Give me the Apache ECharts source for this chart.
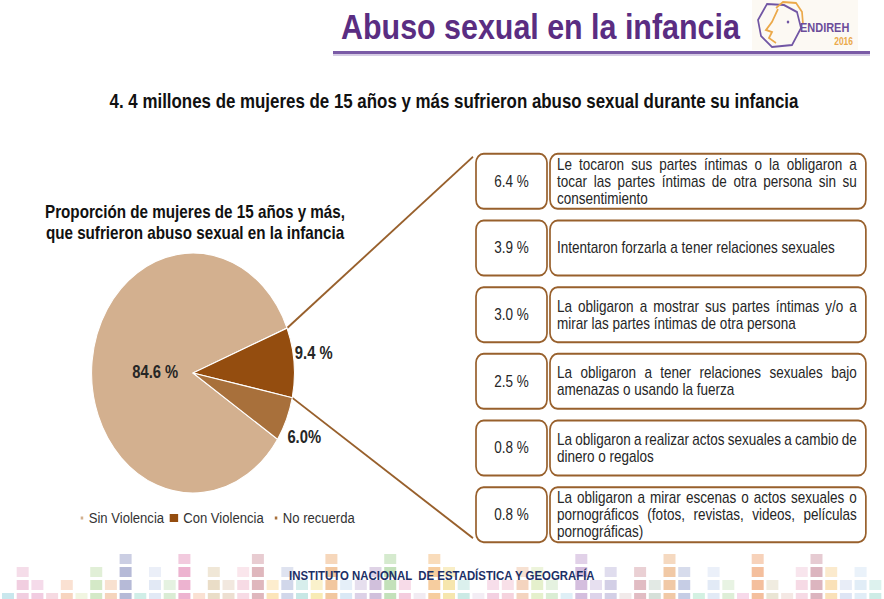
<!DOCTYPE html>
<html>
<head>
<meta charset="utf-8">
<title>Abuso sexual en la infancia</title>
<script src="https://cdn.jsdelivr.net/npm/echarts@6/dist/echarts.min.js"></script>
<style>
  html, body { margin: 0; padding: 0; background: #fff; overflow: hidden; }
  #wrap { width: 884px; height: 599px; overflow: hidden; }
  /* la lamina original esta comprimida en horizontal: se dibuja ancho y se comprime */
  #chart { width: 1046px; height: 599px; transform: scaleX(0.845); transform-origin: 0 0; }
</style>
</head>
<body>
<div id="wrap"><div id="chart"></div></div>
<script>
const SQ = 0.845;
const X = v => v / SQ; // coordenada de la lamina -> coordenada sin comprimir
const FONT = '"Liberation Sans", Arial, sans-serif';
const TEXT_COLOR = '#262626';
const BROWN = '#98602c';

// pastel principal
const categories = ['Sin Violencia', 'Con Violencia', 'No recuerda'];
const shares = [84.6, 9.4, 6.0];
const shareLabels = ['84.6 %', '9.4 %', '6.0%'];
const sliceColors = ['#d3b08f', '#944d0f', '#a8703b'];

// desglose de "Con Violencia"
const detailValues = [6.4, 3.9, 3.0, 2.5, 0.8, 0.8];
const detailTexts = [
  'Le tocaron sus partes íntimas o la obligaron a\ntocar las partes íntimas de otra persona sin su\nconsentimiento',
  'Intentaron forzarla a tener relaciones sexuales',
  'La obligaron a mostrar sus partes íntimas y/o a\nmirar las partes íntimas de otra persona',
  'La obligaron a tener relaciones sexuales bajo\namenazas o usando la fuerza',
  'La obligaron a realizar actos sexuales a cambio de\ndinero o regalos',
  'La obligaron a mirar escenas o actos sexuales o\npornográficos (fotos, revistas, videos, películas\npornográficas)'
];

// franja decorativa inferior
const bandHeights = [1,3,2,1,2,1,3,2,4,1,3,2,4,1,3,2,3,4,2,3,2,2,4,2,2,3,4,2,1,4,3,2,1,2,2,3,3,2,1,4,2,3,1,3,2,4,3,1,3,2,1,4,2,1,3,4,3,2,3,2];
const bandColors = ['#bfe3ea','#efc6da','#eec3dc','#f4d3dd','#f6cdb4','#eef3dc','#cde5bd','#f3cdb0','#a9aed0','#c8ebe3',
  '#dde5f3','#d3e9cd','#eaa6c8','#f9dccb','#e6d7bd','#ead9c9','#f6d5e0','#d9aab2','#fbe1ad','#c9d0e6',
  '#bde3e0','#f7e7a8','#f0bd8e','#d3e4f3','#d6c9e3','#c9b5d6','#b9dcae','#f2c3d8','#eee8f0','#f5c48e',
  '#f5e2a0','#c3e6e1','#f1eaf2','#f1c8dc','#f3cbd8','#f2cdb4','#e1edc3','#d4eacb','#d9ecf5','#cdb3d8',
  '#d7cbe6','#cbc7e2','#efe6e6','#dcb0b8','#cfdad2','#efbf96','#bcc4e0','#cdeedd','#dde6f5','#d8ebd0',
  '#f6d2e6','#f2b48c','#e6e0cc','#f2e4df','#f4d4e1','#d6a8b4','#f9dcab','#d8e1f2','#dceaf6','#c6e9e2'];

const BOX = { pctW: X(71), gap: X(3), h: 55, padL: X(7), padR: X(9), lineH: 17 };
const labelNudge = [[9, 2.5], [-2, -5], [-2, 8.5]];

const measureCtx = document.createElement('canvas').getContext('2d');
function textWidth(str, font) {
  measureCtx.font = font;
  return measureCtx.measureText(str).width;
}

const chartDom = document.getElementById('chart');
const myChart = echarts.init(chartDom, null, { renderer: 'svg' });

const textFont = '16px ' + FONT;

const detailSeries = {
  type: 'custom',
  name: 'detalle',
  silent: true,
  clip: false,
  data: detailValues.map((v, i) => [0, i, v]),
  encode: { x: 0, y: 1 },
  renderItem: (params, api) => {
    const idx = params.dataIndex;
    const c = api.coord([0, idx]);
    const sys = params.coordSys;
    const x0 = sys.x;
    const top = c[1] - BOX.h / 2;
    const rightX = x0 + BOX.pctW + BOX.gap;
    const rightW = sys.width - BOX.pctW - BOX.gap;
    const children = [
      {
        type: 'rect',
        shape: { x: x0, y: top, width: BOX.pctW, height: BOX.h, r: 9 },
        style: { fill: '#fff', stroke: BROWN, lineWidth: 2 }
      },
      {
        type: 'rect',
        shape: { x: rightX, y: top, width: rightW, height: BOX.h, r: 9 },
        style: { fill: '#fff', stroke: BROWN, lineWidth: 2 }
      },
      {
        type: 'text',
        style: {
          text: api.value(2).toFixed(1) + ' %', x: x0 + BOX.pctW / 2, y: c[1],
          align: 'center', verticalAlign: 'middle',
          fill: TEXT_COLOR, fontFamily: FONT, fontSize: 16
        }
      }
    ];
    const tx = rightX + BOX.padL;
    const tw = rightW - BOX.padL - BOX.padR;
    const lines = detailTexts[idx].split('\n');
    lines.forEach((line, k) => {
      const y = c[1] + (k - (lines.length - 1) / 2) * BOX.lineH;
      const words = line.split(' ');
      if (k === lines.length - 1 || words.length < 2) {
        children.push({
          type: 'text',
          style: { text: line, x: tx, y: y, verticalAlign: 'middle', fill: TEXT_COLOR, fontFamily: FONT, fontSize: 16 }
        });
      } else {
        // texto justificado
        const ws = words.map(w => textWidth(w, textFont));
        const gap = (tw - ws.reduce((a, b) => a + b, 0)) / (words.length - 1);
        let x = tx;
        words.forEach((w, j) => {
          children.push({
            type: 'text',
            style: { text: w, x: x, y: y, verticalAlign: 'middle', fill: TEXT_COLOR, fontFamily: FONT, fontSize: 16 }
          });
          x += ws[j] + gap;
        });
      }
    });
    return { type: 'group', children: children };
  }
};

// franja inferior
const bandRows = [554, 567, 580, 593];
const bandGraphics = [];
bandHeights.forEach((h, i) => {
  for (let r = 0; r < h; r++) {
    bandGraphics.push({
      type: 'rect',
      silent: true,
      shape: { x: X(2 + i * 14.7), y: bandRows[3 - r], width: X(12), height: 10 },
      style: { fill: bandColors[i], opacity: r === h - 1 && h > 1 ? 0.6 : 0.85 }
    });
  }
});

// cuadrito pequeno pegado a la derecha de la caja del icono
const smallIcon = 'path://M0,0M12,10M6.5,2.5h5v5h-5z';

const baseGraphics = [
  // logo
  { type: 'rect', silent: true, shape: { x: X(752), y: 0, width: X(106), height: 50 }, style: { fill: '#fcf9f3' } },
  { type: 'polygon', silent: true,
    shape: { points: [[767, 4], [758, 20], [761, 36], [772, 47], [792, 45], [801, 28], [797, 12], [784, 5]].map(p => [X(p[0]), p[1]]) },
    style: { fill: 'none', stroke: '#7156a4', lineWidth: 2 } },
  { type: 'polyline', silent: true,
    shape: { points: [[776, 8], [783, 2], [796, 3], [802, 12], [803, 24]].map(p => [X(p[0]), p[1]]) },
    style: { fill: 'none', stroke: '#eba94a', lineWidth: 2 } },
  { type: 'polyline', silent: true,
    shape: { points: [[778, 9], [772, 22], [766, 30], [772, 32], [769, 38], [776, 43]].map(p => [X(p[0]), p[1]]) },
    style: { fill: 'none', stroke: '#eba94a', lineWidth: 2 } },
  { type: 'circle', silent: true, shape: { cx: X(788), cy: 22, r: 1.5 }, style: { fill: '#7156a4' } },
  { type: 'text', silent: true, style: { text: 'ENDIREH', x: X(800), y: 28, verticalAlign: 'middle', fill: '#6b4c9a',
    fontFamily: FONT, fontWeight: 'bold', fontSize: 13 } },
  { type: 'text', silent: true, style: { text: '2016', x: X(853), y: 42, align: 'right', verticalAlign: 'middle', fill: '#eba94a',
    fontFamily: FONT, fontWeight: 'bold', fontSize: 10 } },
  // subrayado del titulo
  { type: 'rect', silent: true, shape: { x: X(333), y: 51, width: X(537), height: 3 }, style: { fill: '#7a5ba6' } },
  { type: 'rect', silent: true, shape: { x: X(333), y: 54, width: X(537), height: 2 }, style: { fill: '#d6cde4' } }
].concat(bandGraphics).concat([
  { type: 'text', silent: true, z: 10, style: { text: 'INSTITUTO NACIONAL  DE ESTADÍSTICA Y GEOGRAFÍA', x: X(289), y: 576,
    verticalAlign: 'middle', fill: '#1c2f66', fontFamily: FONT, fontWeight: 'bold', fontSize: 13.5 } }
]);

const option = {
  animation: false,
  color: sliceColors,
  title: [
    {
      text: 'Abuso sexual en la infancia',
      right: 1046 - X(740),
      top: 7,
      padding: 0,
      textStyle: { color: '#5a2d82', fontFamily: FONT, fontWeight: 'bold', fontSize: 36, lineHeight: 40 }
    },
    {
      text: '4. 4 millones de mujeres de 15 años y más sufrieron abuso sexual durante su infancia',
      left: X(454),
      top: 89,
      textAlign: 'center',
      padding: 0,
      textStyle: { color: '#111', fontFamily: FONT, fontWeight: 'bold', fontSize: 20, lineHeight: 24 }
    },
    {
      text: 'Proporción de mujeres de 15 años y más,\nque sufrieron abuso sexual en la infancia',
      left: X(195),
      top: 202,
      textAlign: 'center',
      padding: 0,
      textStyle: { color: '#111', fontFamily: FONT, fontWeight: 'bold', fontSize: 18, lineHeight: 21 }
    }
  ],
  legend: {
    data: categories.map((n, i) => ({ name: n, icon: i === 1 ? 'rect' : smallIcon })),
    left: X(79) - 6.5,
    top: 510,
    padding: 0,
    itemWidth: 12,
    itemHeight: 10,
    itemGap: 4.5,
    selectedMode: false,
    textStyle: { color: '#333', fontFamily: FONT, fontSize: 15.5 }
  },
  grid: { left: X(476), right: X(18), top: 148, bottom: 51 },
  xAxis: { type: 'value', min: 0, max: 1, show: false },
  yAxis: { type: 'category', data: detailValues.map((v, i) => String(i)), inverse: true, show: false },
  graphic: baseGraphics,
  series: [
    {
      type: 'pie',
      name: 'Proporción',
      center: [X(193), 373],
      radius: 120,
      startAngle: 326.5,
      clockwise: true,
      silent: true,
      avoidLabelOverlap: false,
      itemStyle: { borderColor: '#fff', borderWidth: 1.2 },
      label: {
        fontFamily: FONT, fontWeight: 'bold', fontSize: 17.5, color: TEXT_COLOR,
        formatter: p => shareLabels[p.dataIndex]
      },
      labelLine: { show: false, length: 0, length2: 0 },
      labelLayout: p => ({ dx: labelNudge[p.dataIndex][0], dy: labelNudge[p.dataIndex][1] }),
      data: categories.map((n, i) => ({
        name: n,
        value: shares[i],
        itemStyle: { color: sliceColors[i] },
        label: { position: i === 0 ? 'inside' : 'outside' }
      }))
    },
    detailSeries
  ]
};

myChart.setOption(option);

// lineas desde la rebanada "Con Violencia" hasta el desglose
const pieLayout = myChart.getModel().getSeriesByIndex(0).getData().getItemLayout(1);
const edge = [pieLayout.startAngle, pieLayout.endAngle]
  .map(a => [pieLayout.cx + pieLayout.r * Math.cos(a), pieLayout.cy + pieLayout.r * Math.sin(a)])
  .sort((a, b) => a[1] - b[1]);
const firstC = myChart.convertToPixel({ gridIndex: 0 }, [0, 0]);
const lastC = myChart.convertToPixel({ gridIndex: 0 }, [0, detailValues.length - 1]);
const boxLeft = option.grid.left;
const connectors = [
  { type: 'line', silent: true, z: 1, shape: { x1: edge[0][0], y1: edge[0][1], x2: boxLeft - X(3), y2: firstC[1] - BOX.h / 2 + 3 },
    style: { stroke: BROWN, lineWidth: 2 } },
  { type: 'line', silent: true, z: 1, shape: { x1: edge[1][0], y1: edge[1][1], x2: boxLeft - X(3), y2: lastC[1] + BOX.h / 2 - 4 },
    style: { stroke: BROWN, lineWidth: 2 } }
];
myChart.setOption({ graphic: baseGraphics.concat(connectors) });

window.addEventListener('resize', myChart.resize);
</script>
</body>
</html>
